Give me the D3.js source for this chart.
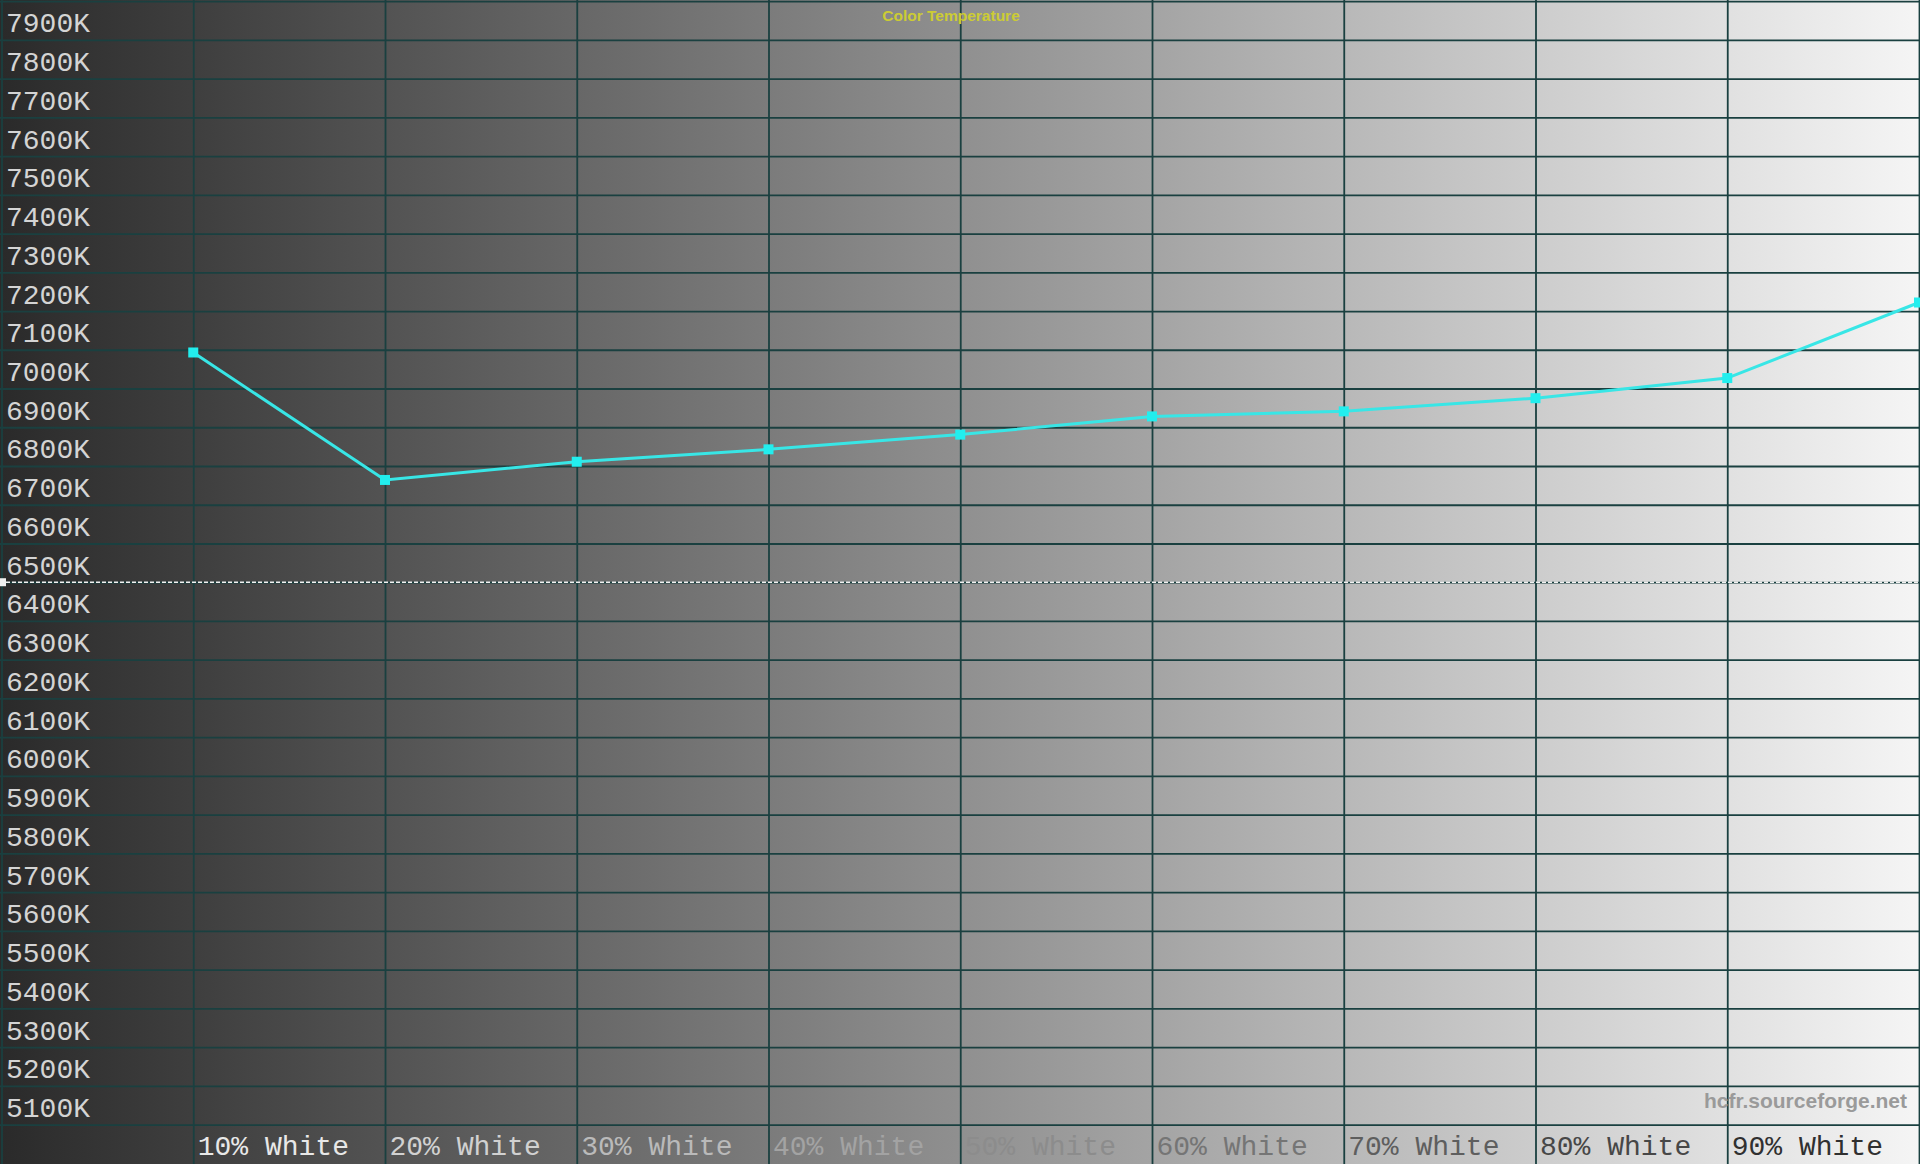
<!DOCTYPE html>
<html>
<head>
<meta charset="utf-8">
<script src="https://cdn.jsdelivr.net/npm/d3@7"></script>
<style>
  body { margin: 0; background: #2a2a2a; overflow: hidden; }
  .label { font-family: "Courier New", "Liberation Mono", monospace; font-size: 28px; }
</style>
</head>
<body>
<div id="chart"></div>
<script>
// measured levels (% white) and colour temperatures (K)
var levels = [10, 20, 30, 40, 50, 60, 70, 80, 90, 100];
var colorTemps = [7093, 6764, 6811, 6843, 6881, 6928, 6941, 6975, 7027, 7222];

var xTickLabels = ["10% White", "20% White", "30% White", "40% White", "50% White",
  "60% White", "70% White", "80% White", "90% White"];
var xTickValues = [10, 20, 30, 40, 50, 60, 70, 80, 90];
var xGridValues = [0, 10, 20, 30, 40, 50, 60, 70, 80, 90, 100];
var yTickValues = d3.range(5100, 8000, 100);
var yGridValues = d3.range(5100, 8001, 100);
var targetTemp = 6500;

var svgWidth = 1920;
var svgHeight = 1164;

var svg = d3.select("#chart")
  .append("svg")
  .attr("width", svgWidth)
  .attr("height", svgHeight);

// background gradient, dark on the left to almost white on the right
var defs = svg.append("defs");
var grad = defs.append("linearGradient")
  .attr("id", "bg")
  .attr("x1", "0%").attr("x2", "100%")
  .attr("y1", "0%").attr("y2", "0%");
grad.append("stop").attr("offset", "0%").attr("stop-color", "#2a2a2a");
grad.append("stop").attr("offset", "100%").attr("stop-color", "#f5f5f5");

svg.append("rect")
  .attr("width", svgWidth)
  .attr("height", svgHeight)
  .attr("fill", "url(#bg)");

// scales
var xScale = d3.scaleLinear()
  .domain([0, 100])
  .range([1.5, 1919]);

var yScale = d3.scaleLinear()
  .domain([5100, 8000])
  .range([1124.6, 1.1]);

var gridColor = "#1a4040";

// horizontal grid
var yGrid = svg.append("g")
  .attr("class", "y_grid")
  .call(d3.axisLeft(yScale).tickValues(yGridValues).tickSize(-svgWidth).tickFormat(""));
yGrid.select(".domain").remove();
yGrid.selectAll("line").attr("stroke", gridColor).attr("stroke-width", 1.8);

// vertical grid
var xGrid = svg.append("g")
  .attr("class", "x_grid")
  .call(d3.axisBottom(xScale).tickValues(xGridValues).tickSize(svgHeight).tickFormat(""));
xGrid.select(".domain").remove();
xGrid.selectAll("line").attr("stroke", gridColor).attr("stroke-width", 1.8);

// target 6500K dashed line
svg.append("line")
  .attr("x1", 0)
  .attr("x2", svgWidth)
  .attr("y1", yScale(targetTemp))
  .attr("y2", yScale(targetTemp))
  .attr("stroke", "#f2f2f2")
  .attr("stroke-width", 1.5)
  .attr("stroke-dasharray", "4,2");

svg.append("rect")
  .attr("x", 0)
  .attr("y", yScale(targetTemp) - 4)
  .attr("width", 6)
  .attr("height", 8)
  .attr("fill", "#f0f0f0");

// y labels, sitting just above their grid line
var yAxis = svg.append("g")
  .attr("class", "y_axis")
  .call(d3.axisRight(yScale).tickValues(yTickValues).tickSize(0).tickFormat(d => d + "K"));
yAxis.select(".domain").remove();
yAxis.selectAll("text")
  .attr("class", "label")
  .attr("x", 6)
  .attr("y", -8)
  .attr("dy", null)
  .attr("text-anchor", "start")
  .attr("fill", "#d4d4d4");

// x labels, colour goes from light to dark
var labelColor = d3.scaleLinear()
  .domain([10, 90])
  .range(["#e8e8e8", "#303030"]);

var xAxis = svg.append("g")
  .attr("class", "x_axis")
  .attr("transform", `translate(0, ${yScale(5100)})`)
  .call(d3.axisBottom(xScale).tickValues(xTickValues).tickSize(0)
    .tickFormat((d, i) => xTickLabels[i]));
xAxis.select(".domain").remove();
xAxis.selectAll("text")
  .attr("class", "label")
  .attr("x", 4)
  .attr("y", 30)
  .attr("dy", null)
  .attr("text-anchor", "start")
  .attr("fill", d => labelColor(d));

// title
svg.append("text")
  .attr("x", 951)
  .attr("y", 20.5)
  .attr("text-anchor", "middle")
  .attr("font-family", "Arial, 'Liberation Sans', sans-serif")
  .attr("font-weight", "bold")
  .attr("font-size", "15.5px")
  .attr("fill", "#cccc33")
  .text("Color Temperature");

// watermark
svg.append("text")
  .attr("x", 1907)
  .attr("y", 1108)
  .attr("text-anchor", "end")
  .attr("font-family", "Arial, 'Liberation Sans', sans-serif")
  .attr("font-weight", "bold")
  .attr("font-size", "21px")
  .attr("fill", "#9a9a9a")
  .text("hcfr.sourceforge.net");

// data line
var points = levels.map((d, i) => ({ level: d, temp: colorTemps[i] }));

var line = d3.line()
  .x(d => xScale(d.level))
  .y(d => yScale(d.temp));

svg.append("path")
  .datum(points)
  .attr("d", line)
  .attr("fill", "none")
  .attr("stroke", "#38e6e6")
  .attr("stroke-width", 3);

svg.selectAll(".marker")
  .data(points)
  .enter()
  .append("rect")
  .attr("class", "marker")
  .attr("x", d => xScale(d.level) - 5)
  .attr("y", d => yScale(d.temp) - 5)
  .attr("width", 10)
  .attr("height", 10)
  .attr("fill", "#22eeee");
</script>
</body>
</html>
